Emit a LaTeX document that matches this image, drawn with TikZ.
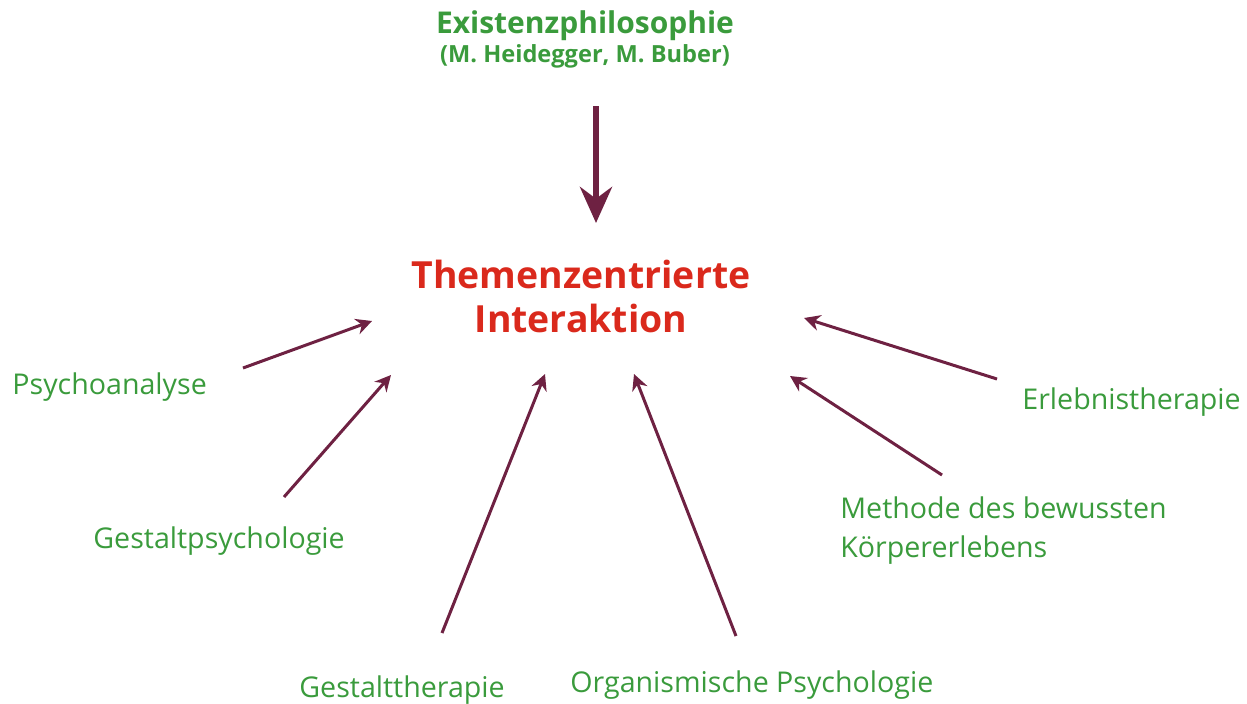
\documentclass[tikz,border=0pt]{standalone}
\usepackage{fontspec}
\setmainfont{Open Sans}
\usetikzlibrary{arrows.meta}
\definecolor{tzigreen}{HTML}{3A9B3C}
\definecolor{tzired}{HTML}{DA291C}
\definecolor{tziplum}{HTML}{6E2142}
\begin{document}
\begin{tikzpicture}[x=0.5pt,y=-0.5pt,>=Stealth,
  src/.style={text=tzigreen,inner sep=0pt,align=left,font=\fontsize{14.3}{19.5}\selectfont},
  lnk/.style={draw=tziplum,line width=1.5pt,-{Stealth[length=8pt,width=8pt]}}]
  \useasboundingbox (0,0) rectangle (1247,703);
  % titles
  \node[text=tzigreen,inner sep=0pt,align=center,anchor=base,font=\bfseries\fontsize{15}{14.5}\selectfont](ex) at (585,62)
    {Existenzphilosophie\\{\fontsize{11.8}{14.5}\selectfont (M. Heidegger, M. Buber)}};
  \node[text=tzired,inner sep=0pt,align=center,anchor=base,font=\bfseries\fontsize{18.7}{22}\selectfont](tzi) at (581,332)
    {Themenzentrierte\\Interaktion};
  % sources
  \node[src,anchor=base west](psy) at (12,394){Psychoanalyse};
  \node[src,anchor=base west](gps) at (93,548){Gestaltpsychologie};
  \node[src,anchor=base west](gth) at (299,697){Gestalttherapie};
  \node[src,anchor=base west](org) at (570,692){Organismische Psychologie};
  \node[src,anchor=base west](kor) at (840,557){Methode des bewussten\\Körpererlebens};
  \node[src,anchor=base west](erl) at (1022,409){Erlebnistherapie};
  % arrow ends
  \coordinate (ex-s) at (596,106);  \coordinate (ex-t) at (596,223);
  \coordinate (psy-s) at (243,368); \coordinate (psy-t) at (372,321);
  \coordinate (gps-s) at (284,497); \coordinate (gps-t) at (391,375);
  \coordinate (gth-s) at (442,633); \coordinate (gth-t) at (545,374);
  \coordinate (org-s) at (736,636); \coordinate (org-t) at (634,374);
  \coordinate (kor-s) at (942,475); \coordinate (kor-t) at (790,376);
  \coordinate (erl-s) at (997,379); \coordinate (erl-t) at (804,318);
  \draw[draw=tziplum,line width=3pt,-{Stealth[length=18pt,width=16pt]}](ex-s)--(ex-t);
  \draw[lnk](psy-s)--(psy-t);
  \draw[lnk](gps-s)--(gps-t);
  \draw[lnk](gth-s)--(gth-t);
  \draw[lnk](org-s)--(org-t);
  \draw[lnk](kor-s)--(kor-t);
  \draw[lnk](erl-s)--(erl-t);
\end{tikzpicture}
\end{document}
